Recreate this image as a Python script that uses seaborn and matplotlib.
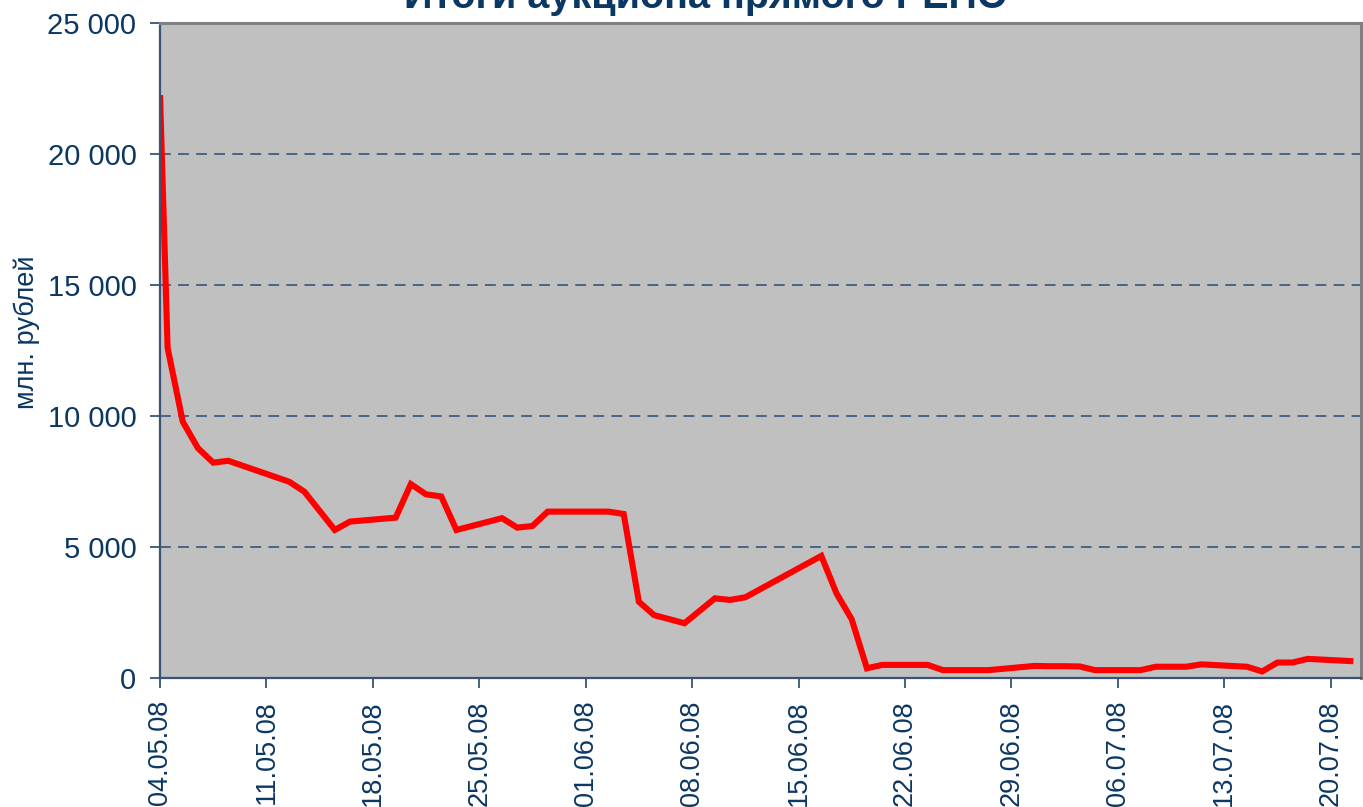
import pandas as pd
import matplotlib
matplotlib.use("Agg")
import matplotlib.pyplot as plt
import matplotlib.dates as mdates
from matplotlib.ticker import FuncFormatter, MultipleLocator
import seaborn as sns

# даты аукционов и объём (млн. рублей)
dates = [
    "04.05.08", "05.05.08", "06.05.08", "07.05.08", "08.05.08",
    "12.05.08", "13.05.08", "15.05.08", "16.05.08", "19.05.08", "20.05.08",
    "21.05.08", "22.05.08", "23.05.08", "26.05.08", "27.05.08", "28.05.08",
    "29.05.08", "30.05.08", "02.06.08", "03.06.08", "04.06.08", "05.06.08",
    "07.06.08", "09.06.08", "10.06.08", "11.06.08", "16.06.08", "17.06.08",
    "18.06.08", "19.06.08", "20.06.08", "23.06.08", "24.06.08", "25.06.08",
    "26.06.08", "27.06.08", "30.06.08", "01.07.08", "02.07.08", "03.07.08",
    "04.07.08", "07.07.08", "08.07.08", "09.07.08", "10.07.08", "11.07.08",
    "14.07.08", "15.07.08", "16.07.08", "17.07.08", "18.07.08", "21.07.08",
]
volumes = [
    12600, 9780, 8770, 8220, 8290,
    7490, 7110, 5650, 5970, 6120, 7400,
    7010, 6930, 5650, 6100, 5740, 5800,
    6350, 6350, 6350, 6260, 2910, 2400,
    2090, 3040, 2980, 3080, 4660, 3230,
    2240, 370, 500, 500, 300, 300,
    300, 300, 460, 450, 450, 440,
    300, 300, 430, 430, 430, 520,
    430, 250, 590, 590, 730, 640,
]
# значение, с которого линия начинается на левом краю оси
start_volume = 22250

title = "Итоги аукциона прямого РЕПО"
y_label = "млн. рублей"
x_start = "04.05.08"
x_end = "22.07.08"

NAVY = "#0B3763"
AXIS = "#3A5375"
GRID = "#3F5E82"

start = pd.to_datetime(x_start, format="%d.%m.%y")
end = pd.to_datetime(x_end, format="%d.%m.%y")

df = pd.DataFrame({
    "date": pd.to_datetime(dates, format="%d.%m.%y") + pd.Timedelta(hours=12),
    "volume": volumes,
})
df = pd.concat([pd.DataFrame({"date": [start], "volume": [start_volume]}), df],
               ignore_index=True)

sns.set_style("white")
plt.rcParams["font.family"] = ["Liberation Sans", "DejaVu Sans"]

W, H = 1363, 807
fig = plt.figure(figsize=(W / 100, H / 100), dpi=100)
ax = fig.add_axes([160 / W, 1 - 678 / H, 1201 / W, 655 / H])
ax.set_facecolor("#C0C0C0")

sns.lineplot(data=df, x="date", y="volume", ax=ax, color="#FF0000",
             linewidth=4.4, solid_joinstyle="miter", solid_capstyle="butt")

ax.set_xlim(start, end)
ax.set_ylim(0, 25000)

ax.yaxis.set_major_locator(MultipleLocator(5000))
ax.yaxis.set_major_formatter(FuncFormatter(lambda v, p: f"{v:,.0f}".replace(",", " ")))
ax.xaxis.set_major_locator(mdates.WeekdayLocator(byweekday=mdates.SU))
ax.xaxis.set_major_formatter(mdates.DateFormatter("%d.%m.%y"))

ax.grid(axis="y", color=GRID, linestyle=(0, (6, 4)), linewidth=1.3)
ax.grid(axis="x", visible=False)

for side in ["left", "bottom"]:
    ax.spines[side].set_color(AXIS)
    ax.spines[side].set_linewidth(1.6)
for side in ["top", "right"]:
    ax.spines[side].set_color("#808080")
    ax.spines[side].set_linewidth(2.2)

ax.tick_params(axis="y", direction="out", length=7, width=1.3, color=AXIS,
               pad=10, labelsize=21, labelcolor=NAVY, left=True)
ax.tick_params(axis="x", direction="out", length=7, width=1.3, color=AXIS,
               pad=9, labelsize=19.5, labelcolor=NAVY, bottom=True)
plt.setp(ax.get_xticklabels(), rotation=90, ha="center", va="top")

ax.set_xlabel("")
ax.set_ylabel(y_label, fontsize=19.5, color=NAVY)
ax.yaxis.set_label_coords(-0.1, 0.5275)

fig.text(706 / W, 1 - 7.5 / H, title, ha="center", va="baseline",
         fontsize=28.5, fontweight="bold", color=NAVY)

fig.savefig("out.png", dpi=100)
